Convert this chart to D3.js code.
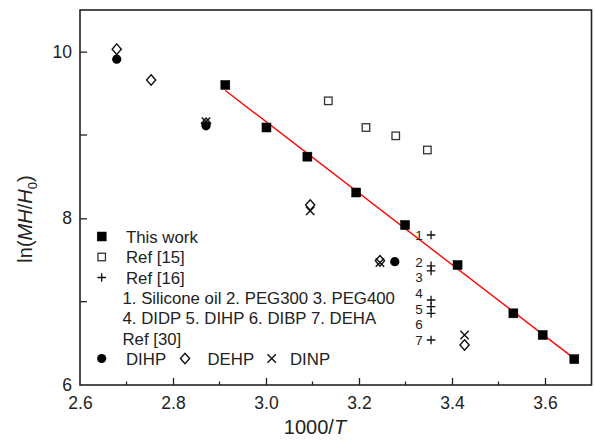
<!DOCTYPE html>
<html><head><meta charset="utf-8">
<script src="https://cdn.jsdelivr.net/npm/d3@7"></script>
<style>body{margin:0;background:#fff}svg{display:block}text{font-family:"Liberation Sans",Arial,sans-serif;fill:#222}</style>
</head><body><svg id="c" width="595" height="441"></svg>
<script>
// ---- data ----
const thisWorkX = [2.9125, 3.001, 3.089, 3.194, 3.299, 3.412, 3.532, 3.595, 3.663];
const thisWorkY = [9.60, 9.09, 8.74, 8.31, 7.92, 7.44, 6.86, 6.60, 6.31];
const ref15X = [3.134, 3.215, 3.279, 3.347];
const ref15Y = [9.41, 9.09, 8.99, 8.82];
const ref16X = [3.355, 3.355, 3.355, 3.355, 3.355, 3.355, 3.355];
const ref16Y = [7.80, 7.43, 7.37, 7.02, 6.94, 6.86, 6.54];
const ref16Labels = ["1", "2", "3", "4", "5", "6", "7"];
const ref16LabelY = [7.80, 7.47, 7.29, 7.10, 6.915, 6.73, 6.54];
const dihpX = [2.679, 2.871, 3.277];
const dihpY = [9.91, 9.11, 7.48];
const dehpX = [2.679, 2.753, 2.871, 3.095, 3.245, 3.427];
const dehpY = [10.03, 9.66, 9.14, 8.16, 7.49, 6.48];
const dinpX = [2.871, 3.095, 3.245, 3.427];
const dinpY = [9.16, 8.09, 7.47, 6.60];
const xTicks = [2.6, 2.8, 3.0, 3.2, 3.4, 3.6];
const yTicks = [6, 8, 10];

const svg = d3.select("#c");
const L = 80, R = 591.5, T = 10, B = 385;
const x = d3.scaleLinear().domain([2.6, 3.7]).range([L, R]);
const y = d3.scaleLinear().domain([6, 10.5]).range([B, T]);
const ink = "#222";

// axes (inward ticks)
const xMinor = d3.range(2.7, 3.7, 0.2);
const yMinor = [7, 9];
const gx = svg.append("g").attr("transform", `translate(0,${B})`);
gx.call(d3.axisBottom(x).tickValues(xTicks).tickSizeInner(-7).tickSizeOuter(0).tickPadding(12).tickFormat(d3.format(".1f")));
gx.selectAll(".tick").filter((d,i)=>i===0).select("line").remove();
gx.selectAll(".tick text").attr("font-size", 17.5).style("fill", ink);
gx.selectAll(".tick line").attr("stroke", ink).attr("stroke-width", 1.3);
gx.select(".domain").remove();
svg.append("g").selectAll("line").data(xMinor).join("line")
  .attr("x1", d=>x(d)).attr("x2", d=>x(d)).attr("y1", B).attr("y2", B-3.5).attr("stroke", ink).attr("stroke-width", 1.3);

const gy = svg.append("g").attr("transform", `translate(${L},0)`);
gy.call(d3.axisLeft(y).tickValues(yTicks).tickSizeInner(-7).tickSizeOuter(0).tickPadding(8).tickFormat(d3.format("d")));
gy.selectAll(".tick line").attr("stroke", ink).attr("stroke-width", 1.3);
gy.selectAll(".tick").filter(d=>d===6).select("line").remove();
gy.selectAll(".tick text").attr("font-size", 17.5).style("fill", ink);
gy.select(".domain").remove();
svg.append("g").selectAll("line").data(yMinor).join("line")
  .attr("x1", L).attr("x2", L+7).attr("y1", d=>y(d)).attr("y2", d=>y(d)).attr("stroke", ink).attr("stroke-width", 1.3);

svg.append("rect").attr("x", L).attr("y", T).attr("width", R-L).attr("height", B-T)
  .attr("fill", "none").attr("stroke", ink).attr("stroke-width", 1.6);

// axis titles
const xt = svg.append("text").attr("x", 315).attr("y", 434).attr("text-anchor", "middle").attr("font-size", 20);
xt.append("tspan").text("1000/");
xt.append("tspan").attr("font-style", "italic").text("T");
const yt = svg.append("text").attr("transform", "translate(32,219) rotate(-90)").attr("text-anchor", "middle").attr("font-size", 20);
yt.append("tspan").text("ln(");
yt.append("tspan").attr("font-style", "italic").text("MH");
yt.append("tspan").text("/");
yt.append("tspan").attr("font-style", "italic").text("H");
yt.append("tspan").attr("font-size", 13).attr("dy", 5).text("0");
yt.append("tspan").attr("dy", -5).text(")");

// fit line (least squares on This work)
const mx = d3.mean(thisWorkX), my = d3.mean(thisWorkY);
const slope = d3.sum(thisWorkX.map((v,i)=>(v-mx)*(thisWorkY[i]-my))) / d3.sum(thisWorkX.map(v=>(v-mx)*(v-mx)));
const icpt = my - slope*mx;
const x0 = d3.min(thisWorkX), x1 = d3.max(thisWorkX);
svg.append("line").attr("x1", x(x0)).attr("y1", y(icpt+slope*x0)).attr("x2", x(x1)).attr("y2", y(icpt+slope*x1))
  .attr("stroke", "#f00").attr("stroke-width", 1.4);

// marker helpers
function sq(g, cx, cy, s, filled){
  g.append("rect").attr("x", cx-s/2).attr("y", cy-s/2).attr("width", s).attr("height", s)
   .attr("fill", filled ? "#000" : "#fff").attr("stroke", filled ? "#000" : "#333").attr("stroke-width", filled ? 0.5 : 1.3);
}
function circ(g, cx, cy){ g.append("circle").attr("cx", cx).attr("cy", cy).attr("r", 4.6).attr("fill", "#000"); }
function diam(g, cx, cy){
  g.append("path").attr("d", `M${cx},${cy-5.3}L${cx+4.6},${cy}L${cx},${cy+5.3}L${cx-4.6},${cy}Z`)
   .attr("fill", "none").attr("stroke", "#111").attr("stroke-width", 1.4);
}
function xm(g, cx, cy){
  const h = 4.2;
  g.append("path").attr("d", `M${cx-h},${cy-h}L${cx+h},${cy+h}M${cx-h},${cy+h}L${cx+h},${cy-h}`)
   .attr("stroke", "#111").attr("stroke-width", 1.4).attr("fill", "none");
}
function plus(g, cx, cy){
  const h = 4.3;
  g.append("path").attr("d", `M${cx-h},${cy}L${cx+h},${cy}M${cx},${cy-h}L${cx},${cy+h}`)
   .attr("stroke", "#111").attr("stroke-width", 1.3).attr("fill", "none");
}

const gm = svg.append("g");
ref15X.forEach((v,i)=>sq(gm, x(v), y(ref15Y[i]), 7.5, false));
dehpX.forEach((v,i)=>diam(gm, x(v), y(dehpY[i])));
dinpX.forEach((v,i)=>xm(gm, x(v), y(dinpY[i])));
dihpX.forEach((v,i)=>circ(gm, x(v), y(dihpY[i])));
ref16X.forEach((v,i)=>plus(gm, x(v), y(ref16Y[i])));
thisWorkX.forEach((v,i)=>sq(gm, x(v), y(thisWorkY[i]), 9, true));
svg.append("g").selectAll("text").data(ref16Labels).join("text")
  .attr("x", (d,i)=>x(ref16X[i]) - 12).attr("y", (d,i)=>y(ref16LabelY[i])).attr("dy", "0.36em")
  .attr("text-anchor", "middle").attr("font-size", 13.5).text(d=>d);

// legend
const lg = svg.append("g");
const fs = 16.8;
sq(lg, 101.7, 236.5, 9, true);
lg.append("text").attr("x", 126).attr("y", 236.5).attr("dy", "0.36em").attr("font-size", fs).text("This work");
sq(lg, 101.7, 257, 7.5, false);
lg.append("text").attr("x", 126).attr("y", 257).attr("dy", "0.36em").attr("font-size", fs).text("Ref [15]");
plus(lg, 101.7, 277.5);
lg.append("text").attr("x", 126).attr("y", 277.5).attr("dy", "0.36em").attr("font-size", fs).text("Ref [16]");
lg.append("text").attr("x", 122.5).attr("y", 297.5).attr("dy", "0.36em").attr("font-size", fs).text("1. Silicone oil 2. PEG300 3. PEG400");
lg.append("text").attr("x", 122.5).attr("y", 318).attr("dy", "0.36em").attr("font-size", fs).text("4. DIDP 5. DIHP 6. DIBP 7. DEHA");
lg.append("text").attr("x", 122.5).attr("y", 338.5).attr("dy", "0.36em").attr("font-size", fs).text("Ref [30]");
circ(lg, 101.7, 358.5);
lg.append("text").attr("x", 126).attr("y", 358.5).attr("dy", "0.36em").attr("font-size", fs).text("DIHP");
diam(lg, 185, 358.5);
lg.append("text").attr("x", 207.5).attr("y", 358.5).attr("dy", "0.36em").attr("font-size", fs).text("DEHP");
xm(lg, 271.7, 358.5);
lg.append("text").attr("x", 290).attr("y", 358.5).attr("dy", "0.36em").attr("font-size", fs).text("DINP");
</script></body></html>
